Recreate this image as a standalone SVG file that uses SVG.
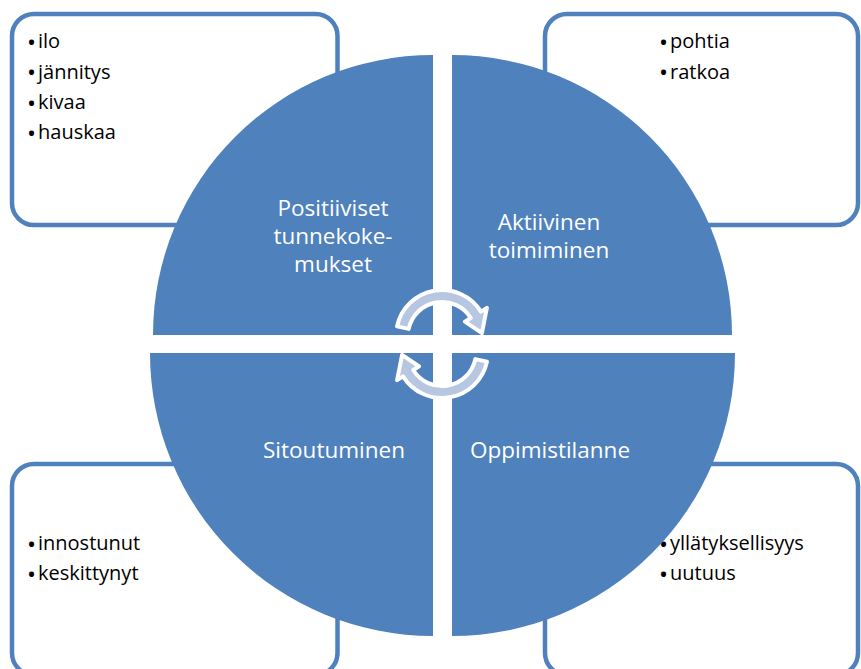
<svg xmlns="http://www.w3.org/2000/svg" width="861" height="669" viewBox="0 0 861 669">
  <style>
    .box { fill: #ffffff; stroke: #4f81bd; stroke-width: 4.5; }
    .item { font-family: "Open Sans", "Liberation Sans", sans-serif; font-size: 20px; fill: #000000; }
    .dot { font-family: "Open Sans", "Liberation Sans", sans-serif; font-size: 24px; fill: #000000; }
    .quad { fill: #4f81bd; }
    .label { font-family: "Open Sans", "Liberation Sans", sans-serif; font-size: 22.5px; fill: #ffffff; text-anchor: middle; }
    .cycle { fill: #b7c7e1; stroke: #ffffff; stroke-width: 4; stroke-linejoin: round; }
  </style>

  <!-- corner boxes with bullet lists -->
  <g id="box-tl">
    <rect class="box" x="12" y="14" width="325.5" height="211" rx="22"/>
    <text class="dot" x="27" y="50.5">•</text><text class="item" x="38" y="48">ilo</text>
    <text class="dot" x="27" y="81">•</text><text class="item" x="38" y="78.5">jännitys</text>
    <text class="dot" x="27" y="111.5">•</text><text class="item" x="38" y="109">kivaa</text>
    <text class="dot" x="27" y="141.5">•</text><text class="item" x="38" y="139">hauskaa</text>
  </g>
  <g id="box-tr">
    <rect class="box" x="545" y="14" width="313" height="211" rx="22"/>
    <text class="dot" x="659" y="50.5">•</text><text class="item" x="670" y="48">pohtia</text>
    <text class="dot" x="659" y="81">•</text><text class="item" x="670" y="78.5">ratkoa</text>
  </g>
  <g id="box-bl">
    <rect class="box" x="12" y="464" width="325.5" height="211" rx="22"/>
    <text class="dot" x="27" y="552.5">•</text><text class="item" x="38" y="550">innostunut</text>
    <text class="dot" x="27" y="582.5">•</text><text class="item" x="38" y="580">keskittynyt</text>
  </g>
  <g id="box-br">
    <rect class="box" x="545" y="464" width="313" height="211" rx="22"/>
    <text class="dot" x="659" y="552.5">•</text><text class="item" x="670" y="550">yllätyksellisyys</text>
    <text class="dot" x="659" y="582.5">•</text><text class="item" x="670" y="580">uutuus</text>
  </g>

  <!-- four quadrants of the central circle -->
  <g id="quad-tl">
    <path class="quad" d="M433,335 L153,335 A280,280 0 0 1 433,55 Z"/>
    <text class="label"><tspan x="333" y="216">Positiiviset</tspan><tspan x="333" y="244">tunnekoke-</tspan><tspan x="333" y="272">mukset</tspan></text>
  </g>
  <g id="quad-tr">
    <path class="quad" d="M452,335 L452,55 A280,280 0 0 1 732,335 Z"/>
    <text class="label"><tspan x="549" y="230">Aktiivinen</tspan><tspan x="549" y="258">toimiminen</tspan></text>
  </g>
  <g id="quad-br">
    <path class="quad" d="M452,353 L735,353 A283,283 0 0 1 452,636 Z"/>
    <text class="label" x="550" y="458">Oppimistilanne</text>
  </g>
  <g id="quad-bl">
    <path class="quad" d="M433,353 L433,636 A283,283 0 0 1 150,353 Z"/>
    <text class="label" x="334" y="458">Sitoutuminen</text>
  </g>

  <!-- circular arrows in the middle -->
  <g id="connectors">
    <path id="arrow-top" class="cycle" d="M397.0,326.4 A46,46 0 0 1 481.0,311.6 L486.9,307.9 L481.9,333.2 L464.9,321.7 L470.8,318.0 A34,34 0 0 0 408.7,328.9 Z"/>
    <path id="arrow-bottom" class="cycle" transform="rotate(180 442 344)" d="M397.0,326.4 A46,46 0 0 1 481.0,311.6 L486.9,307.9 L481.9,333.2 L464.9,321.7 L470.8,318.0 A34,34 0 0 0 408.7,328.9 Z"/>
  </g>
</svg>
